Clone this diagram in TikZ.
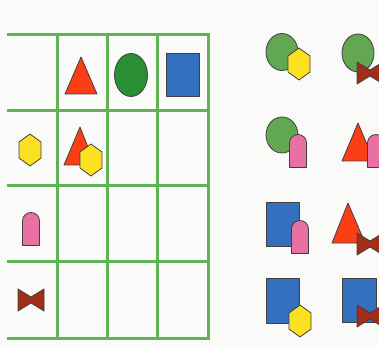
\documentclass[tikz,border=0pt]{standalone}
\usepackage{tikz}
\usetikzlibrary{calc}

\definecolor{gridgreen}{RGB}{98,178,86}
\definecolor{trired}{RGB}{250,62,22}
\definecolor{ovdark}{RGB}{42,142,52}
\definecolor{ovlight}{RGB}{98,168,82}
\definecolor{sqblue}{RGB}{52,112,190}
\definecolor{hexyellow}{RGB}{252,224,34}
\definecolor{archpink}{RGB}{232,112,162}
\definecolor{bowbrown}{RGB}{162,46,26}
\definecolor{paper}{RGB}{250,250,248}

\tikzset{
  outl/.style={draw=black!75,line width=0.8pt,line join=round},
  gridline/.style={draw=gridgreen,line width=3pt},
  hexa/.pic={\filldraw[outl,fill=hexyellow] (0,-16)--(11,-8)--(11,8)--(0,16)--(-11,8)--(-11,-8)--cycle;},
  arch/.pic={\filldraw[outl,fill=archpink] (-8.5,16.5)--(-8.5,-8)
     arc[start angle=180,end angle=360,radius=8.5]--(8.5,16.5)--cycle;},
  bow/.pic={\filldraw[outl,fill=bowbrown] (-13,-11)--(0,-3)--(13,-11)--(13,11)--(0,3)--(-13,11)--cycle;}
}

\begin{document}
\begin{tikzpicture}[x=1pt,y=-1pt]
  \useasboundingbox (0,0) rectangle (379,347);
  \clip (0,0) rectangle (379,347);
  \fill[paper] (0,0) rectangle (379,347);

  % grid
  \foreach \y in {35,111,185,261,338}
    \draw[gridline] (7,\y) -- (209.5,\y);
  \foreach \x in {57,107,157,208}
    \draw[gridline] (\x,33.5) -- (\x,339.5);

  % first row
  \filldraw[outl,fill=trired] (81,57) -- (97,94) -- (65,94) -- cycle;
  \filldraw[outl,fill=ovdark] (131,75) ellipse[x radius=16.5,y radius=21.5];
  \filldraw[outl,fill=sqblue] (166,53) rectangle (199,96);

  % first column
  \pic at (30,150) {hexa};
  \pic at (31,229) {arch};
  \pic at (31,300) {bow};

  % triangle with hexagon
  \filldraw[outl,fill=trired] (80,127) -- (95,165) -- (64,165) -- cycle;
  \pic at (91,160) {hexa};

  % right side
  \filldraw[outl,fill=ovlight] (282,52) ellipse[x radius=16,y radius=18.5];
  \pic at (299,64) {hexa};
  \filldraw[outl,fill=ovlight] (358,53) ellipse[x radius=16,y radius=19];
  \pic at (370,73) {bow};

  \filldraw[outl,fill=ovlight] (282,135) ellipse[x radius=16,y radius=18];
  \pic at (298,151) {arch};
  \filldraw[outl,fill=trired] (358,123) -- (374,161) -- (342,161) -- cycle;
  \pic at (376,151) {arch};

  \filldraw[outl,fill=sqblue] (266,202) rectangle (299,246);
  \pic at (300,237) {arch};
  \filldraw[outl,fill=trired] (348,203) -- (365,243) -- (332,243) -- cycle;
  \pic at (370,244) {bow};

  \filldraw[outl,fill=sqblue] (266,278) rectangle (299,323);
  \pic at (300,321) {hexa};
  \filldraw[outl,fill=sqblue] (342,278) rectangle (376,322);
  \pic at (370,316) {bow};
\end{tikzpicture}
\end{document}
